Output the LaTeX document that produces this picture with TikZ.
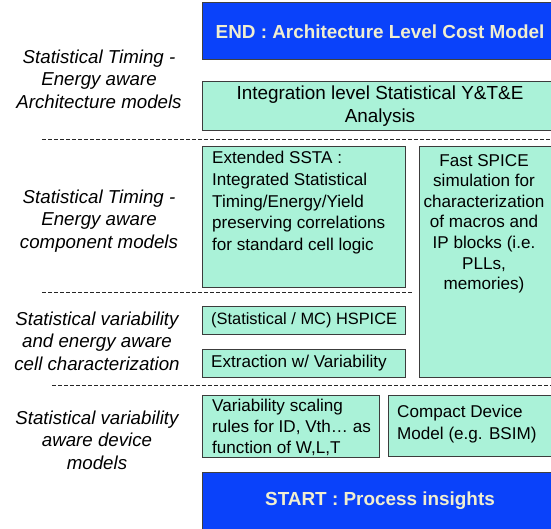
\documentclass[tikz,border=0pt]{standalone}
\usepackage{fontspec}
\setmainfont{Liberation Sans}
\definecolor{bluebox}{RGB}{10,66,250}
\definecolor{greenbox}{RGB}{170,242,216}
\definecolor{creamtxt}{RGB}{240,238,208}
\definecolor{edgecol}{RGB}{60,60,60}
\tikzset{
 box/.style={draw=edgecol, line width=1pt, fill=greenbox, anchor=north west, inner sep=0pt, outer sep=0pt},
 bluebx/.style={draw=black!75, line width=1pt, fill=bluebox, anchor=north west, inner sep=0pt, outer sep=0pt, text=creamtxt, font=\fontsize{18.9}{22}\selectfont\bfseries},
 boxtxt/.style={font=\fontsize{17.1}{21.8}\selectfont, inner sep=0pt, align=left},
 lbl/.style={font=\fontsize{18.7}{22.5}\selectfont\itshape, align=center, inner sep=0pt},
 sep/.style={dash pattern=on 4pt off 2pt, line width=1pt, black!85}
}
\begin{document}
\begin{tikzpicture}[x=1pt,y=-1pt]
\clip (0,0) rectangle (551,529);
\fill[white] (0,0) rectangle (551,529);

% top
\node[bluebx, minimum width=356pt, minimum height=57pt] (end) at (202,3) {END : Architecture Level Cost Model};
\node[box, minimum width=356pt, minimum height=49pt, font=\fontsize{18.9}{23}\selectfont, align=center] (integ) at (202,82) {Integration level Statistical Y\&T\&E\\Analysis};

\coordinate (d1a) at (42,140);
\coordinate (d1b) at (551,140);
\draw[sep] (d1a) -- (d1b);

% component models
\node[box, minimum width=203pt, minimum height=140pt] (ext) at (202,147) {};
\node[boxtxt, anchor=north west] (exttxt) at (212,151) {Extended SSTA :\\Integrated Statistical\\Timing/Energy/Yield\\preserving correlations\\for standard cell logic};

\node[box, minimum width=140pt, minimum height=230pt] (fast) at (419,147) {};
\node[boxtxt, align=center, anchor=north, font=\fontsize{17.1}{20.6}\selectfont] (fasttxt) at (484,154) {Fast SPICE\\simulation for\\characterization\\of macros and\\IP blocks (i.e.\\PLLs,\\memories)};

\coordinate (d2a) at (42,292);
\coordinate (d2b) at (413,292);
\draw[sep] (d2a) -- (d2b);

% cell characterization
\node[box, minimum width=203pt, minimum height=28pt] (hsp) at (202,306) {};
\node[boxtxt, anchor=west, font=\fontsize{16.4}{20}\selectfont] (hsptxt) at (211,320) {(Statistical / MC) HSPICE};
\node[box, minimum width=203pt, minimum height=28pt] (extr) at (202,349) {};
\node[boxtxt, anchor=west] (extrtxt) at (211,363) {Extraction w/ Variability};

\coordinate (d3a) at (52,385);
\coordinate (d3b) at (551,385);
\draw[sep] (d3a) -- (d3b);

% device models
\node[box, minimum width=177pt, minimum height=62pt] (var) at (202,395) {};
\node[boxtxt, anchor=north west, font=\fontsize{17.1}{21.2}\selectfont] (vartxt) at (212,399) {Variability scaling\\rules for ID, Vth… as\\function of W,L,T};
\node[box, minimum width=170pt, minimum height=61pt] (cdm) at (388,395) {};
\node[boxtxt, anchor=north west] (cdmtxt) at (397,405) {Compact Device\\Model (e.g. BSIM)};

\node[bluebx, minimum width=356pt, minimum height=58pt] (start) at (202,472) {START : Process insights};

% left labels
\node[lbl] (l1) at (99,79) {Statistical Timing -\\Energy aware\\Architecture models};
\node[lbl] (l2) at (99,221) {Statistical Timing -\\Energy aware\\component models};
\node[lbl] (l3) at (97,341) {Statistical variability\\and energy aware\\cell characterization};
\node[lbl] (l4) at (97,440) {Statistical variability\\aware device\\models};
\end{tikzpicture}
\end{document}
